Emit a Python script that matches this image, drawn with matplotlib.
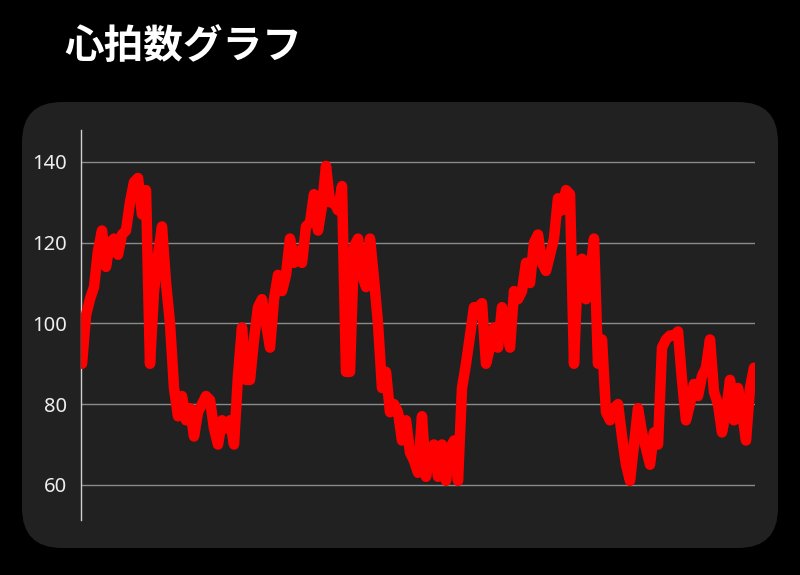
import matplotlib
matplotlib.use("Agg")
import matplotlib.pyplot as plt
from matplotlib.patches import FancyBboxPatch

# 心拍数 (bpm) — 等間隔サンプル
heart_rate = [
    90, 102, 106, 109, 118, 123, 114, 120, 121, 117, 122, 123, 130, 135, 136, 127,
    133, 90, 108, 117, 124, 110, 100, 84, 77, 82, 76, 79, 72, 78, 80, 82,
    81, 74, 70, 76, 74, 76, 70, 87, 99, 86, 86, 96, 104, 106, 100, 94,
    106, 112, 108, 112, 121, 115, 118, 115, 124, 125, 132, 123, 129, 139, 130, 130,
    128, 134, 88, 88, 119, 121, 112, 109, 121, 111, 100, 84, 88, 78, 80, 78,
    71, 76, 68, 66, 63, 77, 62, 68, 70, 62, 70, 61, 69, 71, 61, 84,
    90, 97, 104, 104, 105, 90, 94, 99, 94, 104, 100, 94, 108, 106, 108, 115,
    110, 120, 122, 115, 113, 117, 121, 131, 128, 133, 132, 90, 115, 116, 106, 112,
    121, 90, 96, 78, 76, 79, 80, 72, 65, 61, 70, 79, 73, 69, 65, 73,
    70, 94, 96, 97, 97, 98, 86, 76, 80, 85, 82, 87, 89, 96, 83, 80,
    73, 78, 86, 76, 84, 78, 71, 84, 89,
]
y_ticks = [60, 80, 100, 120, 140]
title = "心拍数グラフ"

plt.rcParams['font.family'] = ['Noto Sans CJK JP', 'DejaVu Sans']

W, H = 800, 575
fig = plt.figure(figsize=(W / 100, H / 100), dpi=100, facecolor="black")

# 角丸パネル (軸より下に描く)
panel = FancyBboxPatch((22 / W, 1 - 548 / H), (778 - 22) / W, (548 - 102) / H,
                       boxstyle="round,pad=0,rounding_size=0.05",
                       transform=fig.transFigure, facecolor="#212121",
                       edgecolor="none", mutation_aspect=W / H, zorder=-5)
fig.patches.append(panel)

fig.text(64 / W, 1 - 46 / H, title, color="white", fontsize=28.5,
         fontweight="bold", va="center", ha="left")

ax = fig.add_axes([81 / W, 1 - 520 / H, (755 - 81) / W, (520 - 130) / H])
ax.set_facecolor("none")

x = list(range(len(heart_rate)))
ax.plot(x, heart_rate, color="#ff0000", linewidth=7.6,
        solid_joinstyle="round", solid_capstyle="round", zorder=3)

ax.set_xlim(-0.25, len(heart_rate) - 0.75)
ax.set_ylim(51.3, 147.9)
ax.set_yticks(y_ticks)
ax.set_xticks([])
ax.grid(axis="y", color="#8a8a8a", linewidth=1.0)
ax.set_axisbelow(True)

for side in ["top", "right", "bottom"]:
    ax.spines[side].set_visible(False)
ax.spines["left"].set_color("#d0d0d0")
ax.spines["left"].set_linewidth(1.0)
ax.tick_params(axis="y", length=0, pad=10, labelsize=14.5, labelcolor="#eeeeee")
for lbl in ax.get_yticklabels():
    lbl.set_fontfamily(["Noto Sans", "DejaVu Sans"])

fig.savefig("out.png", dpi=100, facecolor="black")
